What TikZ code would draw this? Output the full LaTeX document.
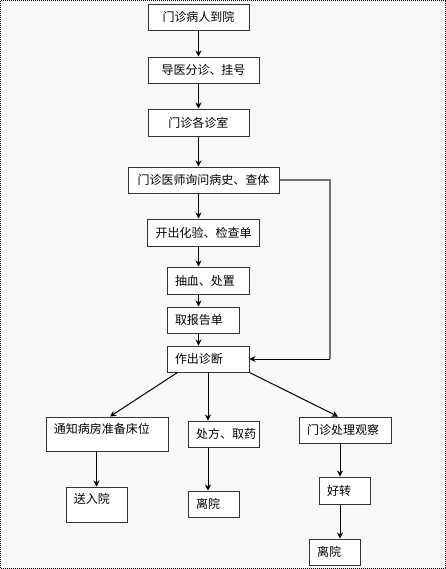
\documentclass[tikz,border=0pt]{standalone}
\usepackage{fontspec}
\setmainfont{Noto Sans CJK SC}
\usepackage{xcolor}
\usetikzlibrary{calc, arrows.meta}
\definecolor{paper}{HTML}{F8F8F8}
\tikzstyle{process} = [rectangle, draw=black!80, fill=white, line width=0.75pt, inner xsep=6pt, inner ysep=0pt, text centered]
\tikzstyle{note} = [process, align=left]
\tikzstyle{arrow} = [-{Stealth[length=4.5pt, width=4.5pt]}, line width=0.75pt]
\tikzstyle{topline} = [text height=12.4pt]

\begin{document}
\begin{tikzpicture}[x=0.75pt, y=-0.75pt, font=\fontsize{9pt}{11pt}\selectfont]
	\useasboundingbox (0,0) rectangle (446,569);
	\draw [dash pattern=on 0.75pt off 0.75pt, line width=0.75pt, fill=paper] (0.5,0.5) rectangle (445.5,568.5);
	\node (Arrive)[process, minimum width=75.75pt, minimum height=19.5pt] at (198.5,17) {门诊病人到院};
	\node (Register)[process, minimum width=83.25pt, minimum height=19.5pt] at (203.5,70) {导医分诊、挂号};
	\node (Clinic)[process, minimum width=75.75pt, minimum height=20.25pt] at (198.5,122.5) {门诊各诊室};
	\node (Inquiry)[process, minimum width=113.25pt, minimum height=19.5pt] at (203.5,180) {门诊医师询问病史、查体};
	\node (Tests)[process, minimum width=83.25pt, minimum height=20.25pt] at (203.5,232.5) {开出化验、检查单};
	\node (Blood)[note, text width=49.5pt, minimum height=20.25pt] at (208,280.5) {抽血、处置};
	\node (Report)[note, text width=42pt, minimum height=19.5pt] at (203,320) {取报告单};
	\node (Diagnose)[note, text width=49.5pt, minimum height=19.5pt] at (208,359) {作出诊断};
	\node (Ward)[note, topline, text depth=13.1pt, text width=79.5pt] at (107,434) {通知病房准备床位};
	\node (Medicine)[note, text width=41.25pt, minimum height=19.5pt] at (223.5,434) {处方、取药};
	\node (Observe)[note, text width=57pt, minimum height=19.5pt] at (345,430) {门诊处理观察};
	\node (Admit)[note, topline, text depth=13.85pt, text width=33.75pt] at (96.5,504.5) {送入院};
	\node (Leave)[note, text width=26.25pt, minimum height=19.5pt] at (213.5,504) {离院};
	\node (Better)[note, text width=26.25pt, minimum height=20.25pt] at (344.5,490.5) {好转};
	\node (Discharge)[note, text width=26.25pt, minimum height=19.5pt] at (334.5,552) {离院};
	\coordinate (Back) at (330,359);
	\coordinate (Right) at (340,0);
	\draw [arrow] (Arrive.south) -- (Arrive.south |- Register.north);
	\draw [arrow] (Register.south -| Arrive.south) -- (Arrive.south |- Clinic.north);
	\draw [arrow] (Clinic.south -| Arrive.south) -- (Arrive.south |- Inquiry.north);
	\draw [arrow] (Inquiry.south -| Arrive.south) -- (Arrive.south |- Tests.north);
	\draw [arrow] (Tests.south -| Arrive.south) -- (Arrive.south |- Blood.north);
	\draw [arrow] (Blood.south -| Arrive.south) -- (Arrive.south |- Report.north);
	\draw [arrow] (Report.south -| Arrive.south) -- (Arrive.south |- Diagnose.north);
	\draw [line width=1pt, black!55] (Inquiry.east) -| (Back);
	\draw [arrow] (Back) -- (Diagnose.east);
	\draw [arrow] ($(Diagnose.south west)+(11,0)$) -- ($(Ward.north)+(3,0)$);
	\draw [arrow] (Diagnose.south) -- (Diagnose.south |- Medicine.north);
	\draw [arrow] (Diagnose.south east) -- ($(Observe.north)+(-7,0)$);
	\draw [arrow] (Ward.south -| Admit.north) -- (Admit.north);
	\draw [arrow] (Medicine.south -| Diagnose.south) -- (Leave.north -| Diagnose.south);
	\draw [arrow] (Observe.south -| Right) -- (Better.north -| Right);
	\draw [arrow] (Better.south -| Right) -- (Discharge.north -| Right);
\end{tikzpicture}
\end{document}
